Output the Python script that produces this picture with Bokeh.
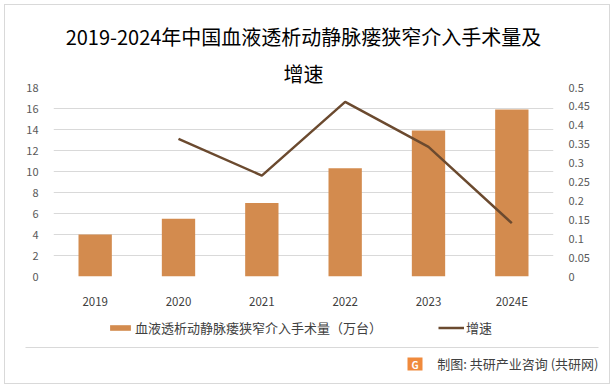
from bokeh.plotting import figure
from bokeh.models import (ColumnDataSource, LinearAxis, Range1d, Legend, LegendItem,
                          Title, FactorRange, SingleIntervalTicker, InlineStyleSheet)
from bokeh.layouts import column
from bokeh.embed import file_html
from bokeh.resources import INLINE
from bokeh.core.properties import value

years = ["2019", "2020", "2021", "2022", "2023", "2024E"]
volume = [4.0, 5.5, 7.0, 10.3, 13.9, 15.9]          # 万台
growth_years = ["2020", "2021", "2022", "2023", "2024E"]
growth = [0.364, 0.267, 0.462, 0.343, 0.141]
bar_label = "血液透析动静脉瘘狭窄介入手术量（万台）"
line_label = "增速"

FONT = "Noto Sans CJK SC"
BAR_COLOR = "#D38B4E"
LINE_COLOR = "#6B4A2F"
GRID = "#D9D9D9"

W = 613
p = figure(width=W, height=311, x_range=FactorRange(*years), y_range=Range1d(0, 18),
           output_backend="svg", toolbar_location=None,
           min_border_top=87, min_border_left=53, min_border_right=60, min_border_bottom=26)
p.frame_align = False
p.extra_y_ranges = {"r": Range1d(0, 0.5)}
p.x_range.range_padding = 0
p.outline_line_color = None
p.background_fill_color = "white"
p.border_fill_color = "white"

src = ColumnDataSource(dict(x=years, y=volume))
bars = p.vbar(x="x", top="y", width=0.4, source=src, fill_color=BAR_COLOR, line_color=None)
lsrc = ColumnDataSource(dict(x=growth_years, y=growth))
line = p.line(x="x", y="y", source=lsrc, y_range_name="r", line_color=LINE_COLOR, line_width=2.5)

# axes
p.yaxis.ticker = SingleIntervalTicker(interval=2)
ra = LinearAxis(y_range_name="r", ticker=SingleIntervalTicker(interval=0.05))
p.add_layout(ra, "right")
for ax in [p.yaxis[0], ra]:
    ax.axis_line_color = None
    ax.major_tick_line_color = None
    ax.minor_tick_line_color = None
    ax.major_label_text_font = FONT
    ax.major_label_text_font_size = "11px"
    ax.major_label_text_color = "#595959"
    ax.major_label_standoff = 9
p.xaxis.axis_line_color = None
p.xaxis.major_tick_line_color = None
p.xaxis.major_label_text_font = FONT
p.xaxis.major_label_text_font_size = "11.5px"
p.xaxis.major_label_text_color = "#404040"
p.xaxis.major_label_standoff = 10
p.xgrid.grid_line_color = None
p.ygrid.grid_line_color = GRID
p.ygrid.ticker = SingleIntervalTicker(interval=2)

# title (two lines) - first added is closest to the plot
p.add_layout(Title(text="增速", text_font=FONT, text_font_size="20px",
                   text_font_style="normal", text_color="#000000",
                   align="center", standoff=0), "above")
p.add_layout(Title(text="2019-2024年中国血液透析动静脉瘘狭窄介入手术量及", text_font=FONT,
                   text_font_size="20px", text_font_style="normal", text_color="#000000",
                   align="center", standoff=11), "above")

# footer: legend, separator and source note
FH = 76
f = figure(width=W, height=FH, x_range=Range1d(0, W), y_range=Range1d(0, FH),
           output_backend="svg", toolbar_location=None, min_border=0)
f.frame_align = False
f.axis.visible = False
f.grid.visible = False
f.outline_line_color = None
lb = f.vbar(x=[-1000], top=[0], width=0.4, fill_color=BAR_COLOR, line_color=None)
ll = f.line(x=[-1000, -999], y=[-1000, -1000], line_color=LINE_COLOR, line_width=2.5)
legend = Legend(items=[LegendItem(label=bar_label, renderers=[lb]),
                       LegendItem(label=line_label, renderers=[ll])],
                orientation="horizontal", location=(107, 50),
                padding=0, margin=0, spacing=56, label_standoff=2,
                glyph_width=26, glyph_height=7,
                label_text_font=FONT, label_text_font_size="13px", label_text_color="#404040",
                border_line_color=None, background_fill_alpha=0)
f.add_layout(legend, "center")
f.segment(x0=[25], y0=[40], x1=[598], y1=[40], line_color=GRID, line_width=1)
f.quad(left=[407], right=[422], bottom=[17], top=[30], fill_color="#F08A3C", line_color=None)
f.text(x=[414.5], y=[23.5], text=["G"], text_font=value(FONT), text_font_size="10px",
       text_color="white", text_align="center", text_baseline="middle", text_font_style="bold")
f.text(x=[598], y=[24], text=["制图: 共研产业咨询 (共研网)"], text_font=value(FONT),
       text_font_size="13px", text_color="#404040", text_align="right", text_baseline="middle")

frame_css = InlineStyleSheet(css=""":host::after {
  content: ""; position: absolute; left: 4px; top: 4px; width: 604px; height: 378px;
  border: 1px solid #D9D9D9; pointer-events: none; z-index: 100;
}""")
layout = column(p, f, spacing=0, stylesheets=[frame_css])
open("out.html", "w").write(file_html(layout, INLINE))
